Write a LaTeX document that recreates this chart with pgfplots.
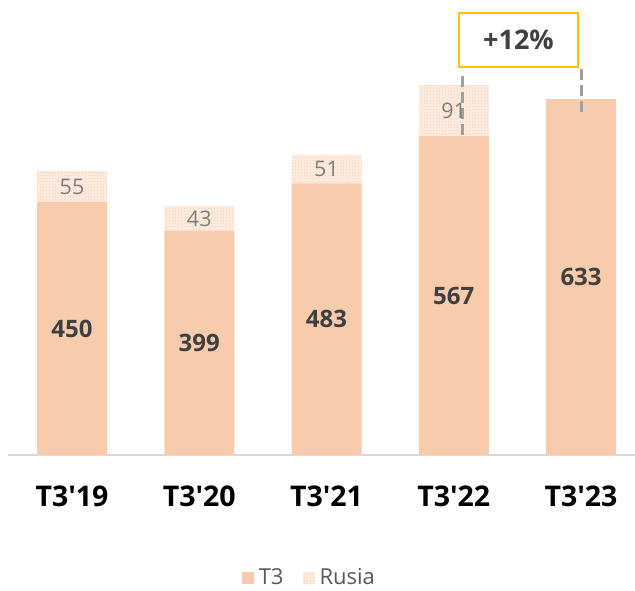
\documentclass[border=0pt]{standalone}
\usepackage{fontspec}
\setmainfont{Open Sans}
\usepackage{pgfplots}
\pgfplotsset{compat=1.18}
\usetikzlibrary{patterns}
\definecolor{peach}{HTML}{F8CBAD}
\definecolor{valgray}{HTML}{404040}
\definecolor{midgray}{HTML}{7F7F7F}
\definecolor{leggray}{HTML}{595959}
\definecolor{gold}{HTML}{FFC000}
\definecolor{dashgray}{HTML}{A0A0A0}
\definecolor{axgray}{HTML}{D9D9D9}
\pgfplotsset{
  base/.style={
    scale only axis,
    width=627pt, height=445pt,
    xmin=-0.503, xmax=4.424,
    ymin=0, ymax=791.5,
    clip=false,
  }
}
\begin{document}
\begin{tikzpicture}
\begin{axis}[
  base,
  ybar stacked,
  bar width=70pt,
  axis y line=none,
  axis x line*=bottom,
  x axis line style={axgray, line width=2pt, -},
  xtick={0,1,2,3,4},
  xticklabels={T3\textquotesingle19,T3\textquotesingle20,T3\textquotesingle21,T3\textquotesingle22,T3\textquotesingle23},
  major tick length=0pt,
  xticklabel style={anchor=base, yshift=-52pt, font=\fontsize{28.5}{30}\selectfont\bfseries, color=black},
  legend style={at={(0.483,-0.275)}, anchor=center, draw=none, fill=none,
    legend columns=2, font=\fontsize{22}{23}\selectfont, text=leggray,
    inner ysep=0pt, outer ysep=0pt,
    nodes={inner xsep=5pt, inner ysep=1pt},
    /tikz/every even column/.append style={column sep=14pt}},
  legend image code/.code={\draw[#1, draw=none] (0pt,-7pt) rectangle (12pt,5pt);},
]
\addplot[fill=peach, draw=none]
  coordinates {(0,450) (1,399) (2,483) (3,567) (4,633)};
\addlegendentry{T3}
\addplot[fill=peach!35!white, draw=none, postaction={pattern=crosshatch dots, pattern color=peach}]
  coordinates {(0,55) (1,43) (2,51) (3,91)};
\addlegendentry{Rusia}
\end{axis}
\begin{axis}[
  base,
  hide axis,
]
% T3 value labels at segment midpoints
\addplot[draw=none, mark=none, nodes near coords, point meta=explicit symbolic,
  every node near coord/.style={anchor=center, font=\fontsize{24}{26}\selectfont\bfseries, color=valgray}]
  coordinates {(0,225)[450] (1,199.5)[399] (2,241.5)[483] (3,283.5)[567] (4,316.5)[633]};
% Rusia value labels at segment midpoints
\addplot[draw=none, mark=none, nodes near coords, point meta=explicit symbolic,
  every node near coord/.style={anchor=center, font=\fontsize{21.5}{23}\selectfont, color=midgray}]
  coordinates {(0,477.5)[55] (1,420.5)[43] (2,508.5)[51] (3,612.5)[91]};
\draw[dashgray, line width=3pt, dash pattern=on 11pt off 5pt] (axis cs:3.065,674) -- (axis cs:3.065,567);
\draw[dashgray, line width=3pt, dash pattern=on 11pt off 5pt] (axis cs:4.0,686) -- (axis cs:4.0,601);
\node[draw=gold, line width=2.5pt, fill=white, minimum width=119pt, minimum height=54pt,
  font=\fontsize{27}{29}\selectfont\bfseries, text=valgray] at (axis cs:3.5085,738) {+12\%};
\coordinate (o) at (rel axis cs:0,0);
\end{axis}
\pgfresetboundingbox
\path[use as bounding box] ([shift={(-8pt,-136pt)}]o) rectangle ([shift={(627pt,455pt)}]o);
\end{tikzpicture}
\end{document}
